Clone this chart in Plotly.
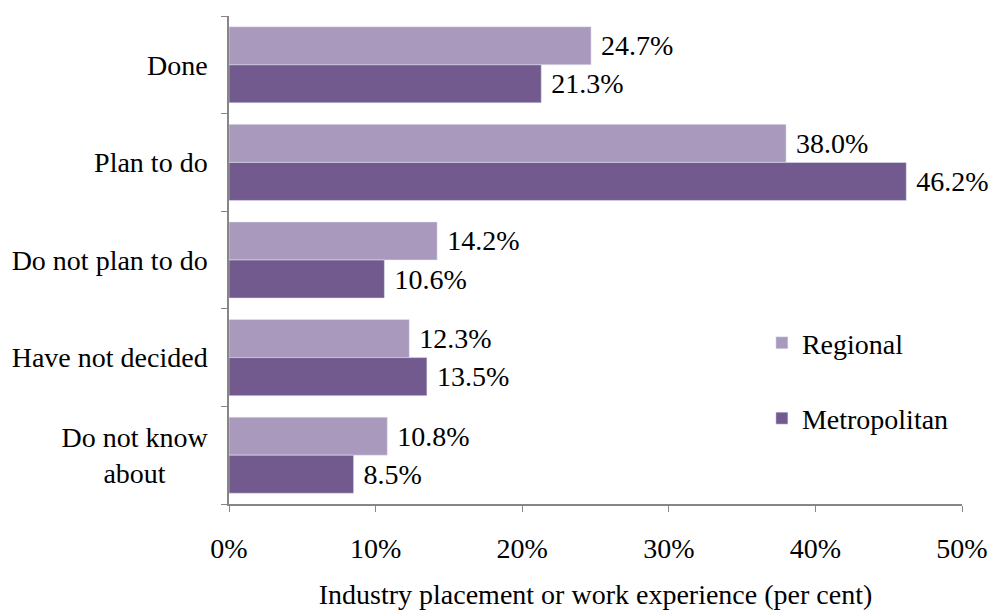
import plotly.graph_objects as go

categories = ["Done", "Plan to do", "Do not plan to do", "Have not decided", "Do not know about"]
tick_labels = ["Done", "Plan to do", "Do not plan to do", "Have not decided",
               "Do not know<br>about" + "\u00a0" * 6]
regional = [24.7, 38.0, 14.2, 12.3, 10.8]
metropolitan = [21.3, 46.2, 10.6, 13.5, 8.5]
x_ticks = [0, 10, 20, 30, 40, 50]
x_tick_text = ["0%", "10%", "20%", "30%", "40%", "50%"]

FONT = "Liberation Serif, Times New Roman, serif"
FS = 28
REG_COLOR = "#A99ABD"
MET_COLOR = "#725A8F"

fig = go.Figure()
fig.add_trace(go.Bar(
    y=categories, x=regional, orientation="h", name="Regional",
    marker=dict(color=REG_COLOR), legendgroup="r",
    text=["\u00a0" + f"{v:.1f}%" for v in regional], textposition="outside",
    textfont=dict(family=FONT, size=FS, color="#000000"), cliponaxis=False,
))
fig.add_trace(go.Bar(
    y=categories, x=metropolitan, orientation="h", name="Metropolitan",
    marker=dict(color=MET_COLOR), legendgroup="m",
    text=["\u00a0" + f"{v:.1f}%" for v in metropolitan], textposition="outside",
    textfont=dict(family=FONT, size=FS, color="#000000"), cliponaxis=False,
))

fig.update_layout(
    width=995, height=610,
    margin=dict(l=229, r=33, t=16, b=106, autoexpand=False),
    paper_bgcolor="white", plot_bgcolor="white",
    font=dict(family=FONT, size=FS, color="#000000"),
    barmode="group", bargap=0.22, bargroupgap=0,
    uniformtext=dict(minsize=FS, mode="show"),
    showlegend=True,
    legend=dict(x=0.727, y=0.381, xanchor="left", yanchor="top",
                traceorder="grouped", tracegroupgap=36,
                font=dict(family=FONT, size=FS), itemwidth=30,
                bgcolor="rgba(0,0,0,0)"),
    xaxis=dict(range=[0, 50], tickvals=x_ticks, ticktext=x_tick_text,
               showgrid=False, zeroline=False, showline=True,
               linecolor="#868686", linewidth=1.5, ticks="outside",
               ticklen=6, tickcolor="#868686", ticklabelstandoff=13,
               automargin=False,
               title=dict(text="Industry placement or work experience (per cent)",
                          standoff=23, font=dict(family=FONT, size=FS))),
    yaxis=dict(type="category", categoryorder="array", categoryarray=categories,
               tickvals=categories, ticktext=tick_labels,
               autorange="reversed", showgrid=False, showline=True,
               linecolor="#868686", linewidth=1.5, ticks="outside",
               ticklen=6, tickcolor="#868686", tickson="boundaries",
               ticklabelstandoff=14, automargin=False),
)

fig.write_html("out.html", config={"displayModeBar": False},
               post_script="document.body.style.margin='0';document.body.style.padding='0';")
